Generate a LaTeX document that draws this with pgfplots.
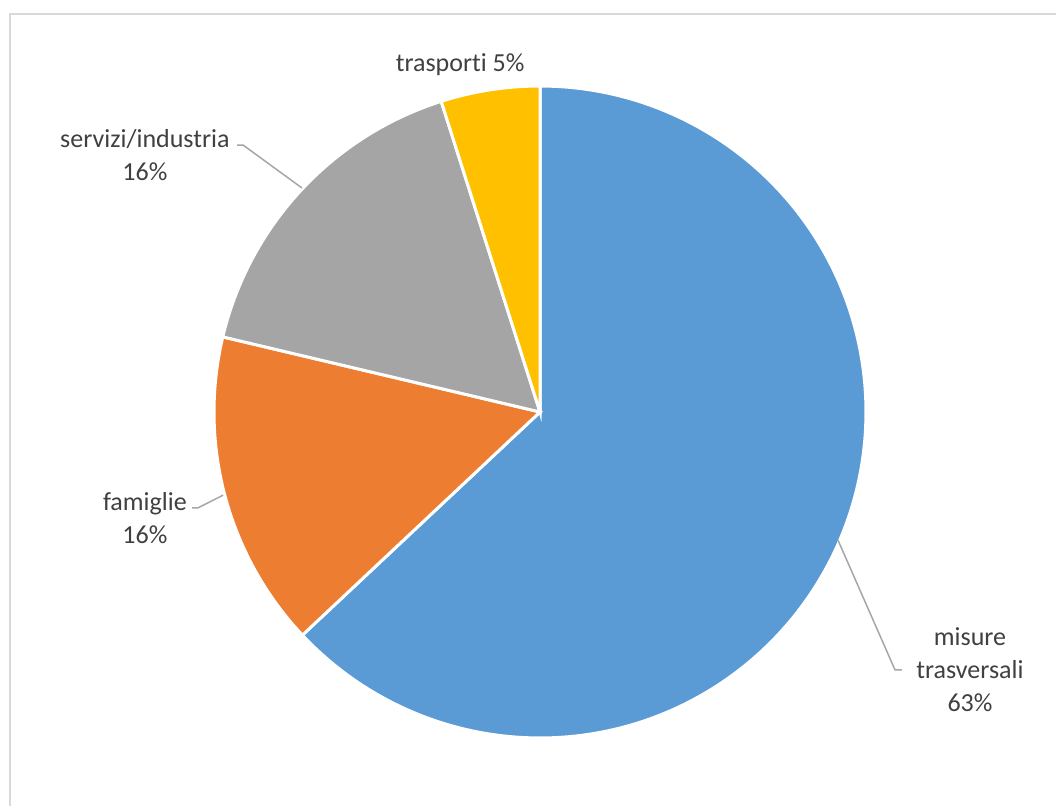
\documentclass[border=0pt]{standalone}
\usepackage{pgfplots}
\pgfplotsset{compat=1.18}
\usepackage{pgfplotstable}
\usepackage{fontspec}
\setmainfont{Carlito}[Ligatures=NoCommon]
\definecolor{pieblue}{HTML}{5B9BD5}
\definecolor{pieorange}{HTML}{ED7D31}
\definecolor{piegray}{HTML}{A5A5A5}
\definecolor{pieyellow}{HTML}{FFC000}
\definecolor{txt}{HTML}{404040}
\definecolor{leader}{HTML}{A6A6A6}
\definecolor{frame}{HTML}{D9D9D9}

\pgfplotstableread{
label value
misure 63.0
famiglie 15.7
servizi 16.4
trasporti 4.9
}\piedata

\newcommand{\pct}[1]{\pgfmathprintnumber[fixed,precision=0,assume math mode=true]{#1}\%}

\begin{document}
\begin{tikzpicture}
\useasboundingbox (0,0) rectangle (528pt,402.5pt);
\draw[frame, line width=1pt] (5pt,-2pt) -- (5pt,395.5pt) -- (530pt,395.5pt);
\pgfplotstablegetelem{0}{value}\of\piedata \edef\vA{\pgfplotsretval}
\pgfplotstablegetelem{1}{value}\of\piedata \edef\vB{\pgfplotsretval}
\pgfplotstablegetelem{2}{value}\of\piedata \edef\vC{\pgfplotsretval}
\pgfplotstablegetelem{3}{value}\of\piedata \edef\vD{\pgfplotsretval}
\pgfmathsetmacro\aA{90}
\pgfmathsetmacro\aB{\aA-3.6*\vA}
\pgfmathsetmacro\aC{\aB-3.6*\vB}
\pgfmathsetmacro\aD{\aC-3.6*\vC}
\pgfmathsetmacro\aE{\aD-3.6*\vD}
\begin{axis}[
  scale only axis, width=326pt, height=326pt,
  xmin=-1, xmax=1, ymin=-1, ymax=1,
  hide axis, clip=false,
  at={(270pt,196.5pt)}, anchor=origin,
]
\addplot[fill=pieblue, draw=white, line width=1.5pt, domain=\aB:\aA, samples=150, variable=\t] ({cos(\t)},{sin(\t)}) -- (axis cs:0,0) -- cycle;
\addplot[fill=pieorange, draw=white, line width=1.5pt, domain=\aC:\aB, samples=50, variable=\t] ({cos(\t)},{sin(\t)}) -- (axis cs:0,0) -- cycle;
\addplot[fill=piegray, draw=white, line width=1.5pt, domain=\aD:\aC, samples=50, variable=\t] ({cos(\t)},{sin(\t)}) -- (axis cs:0,0) -- cycle;
\addplot[fill=pieyellow, draw=white, line width=1.5pt, domain=\aE:\aD, samples=30, variable=\t] ({cos(\t)},{sin(\t)}) -- (axis cs:0,0) -- cycle;

\draw[leader, line width=0.75pt] (axis cs:-0.929,0.819) -- (axis cs:-0.911,0.819) -- (axis cs:-0.730,0.687);
\draw[leader, line width=0.75pt] (axis cs:-1.067,-0.294) -- (axis cs:-1.049,-0.294) -- (axis cs:-0.972,-0.255);
\draw[leader, line width=0.75pt] (axis cs:0.914,-0.393) -- (axis cs:1.089,-0.791) -- (axis cs:1.110,-0.791);

\node[txt, font=\fontsize{13}{16.5}\selectfont, align=center] at (axis cs:-0.245,1.064) {trasporti \pct{\vD}};
\node[txt, font=\fontsize{13}{16.5}\selectfont, align=center] at (axis cs:-1.212,0.788) {servizi/industria\\\pct{\vC}};
\node[txt, font=\fontsize{13}{16.5}\selectfont, align=center] at (axis cs:-1.212,-0.324) {famiglie\\\pct{\vB}};
\node[txt, font=\fontsize{13}{16.5}\selectfont, align=center] at (axis cs:1.319,-0.791) {misure\\trasversali\\\pct{\vA}};
\end{axis}
\end{tikzpicture}
\end{document}
